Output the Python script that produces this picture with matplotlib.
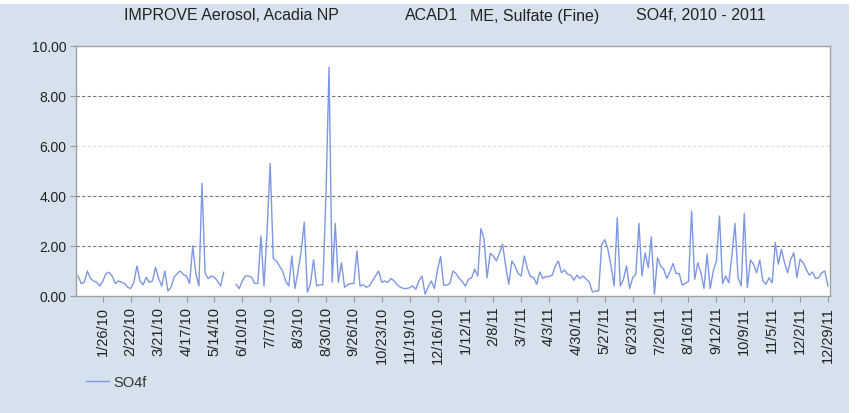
import numpy as np
import pandas as pd
import matplotlib
matplotlib.use("Agg")
import matplotlib.pyplot as plt
from matplotlib.patches import Rectangle

# sampling dates: every 3rd day, IMPROVE schedule
dates = pd.date_range("2010-01-02", periods=243, freq="3D")

nan = np.nan
so4f = [
    0.8, 0.5, 0.55, 1.0, 0.7, 0.6, 0.55, 0.4, 0.6, 0.9,
    0.95, 0.8, 0.5, 0.6, 0.55, 0.5, 0.35, 0.3, 0.55, 1.2,
    0.6, 0.45, 0.75, 0.55, 0.6, 1.15, 0.7, 0.4, 1.0, 0.2,
    0.35, 0.75, 0.9, 1.0, 0.85, 0.8, 0.5, 2.0, 0.9, 0.4,
    4.5, 0.9, 0.7, 0.8, 0.75, 0.6, 0.4, 0.95, nan, nan,
    nan, 0.47, 0.3, 0.6, 0.8, 0.8, 0.75, 0.5, 0.5, 2.4,
    0.4, 2.6, 5.3, 1.5, 1.4, 1.2, 1.0, 0.6, 0.4, 1.6,
    0.3, 1.0, 1.8, 2.95, 0.15, 0.5, 1.45, 0.4, 0.45, 0.45,
    4.0, 9.15, 0.55, 2.9, 0.55, 1.33, 0.35, 0.45, 0.5, 0.5,
    1.8, 0.4, 0.45, 0.35, 0.4, 0.6, 0.8, 1.0, 0.55, 0.6,
    0.55, 0.7, 0.6, 0.45, 0.35, 0.3, 0.3, 0.33, 0.4, 0.27,
    0.6, 0.8, 0.07, 0.37, 0.6, 0.3, 1.05, 1.58, 0.43, 0.44,
    0.5, 1.0, 0.9, 0.71, 0.57, 0.4, 0.67, 0.73, 1.07, 0.8,
    2.7, 2.3, 0.73, 1.71, 1.6, 1.4, 1.71, 2.07, 1.2, 0.47,
    1.4, 1.2, 0.9, 0.8, 1.6, 1.1, 0.77, 0.75, 0.47, 0.96,
    0.7, 0.78, 0.78, 0.83, 1.2, 1.4, 0.93, 1.04, 0.87, 0.83,
    0.63, 0.83, 0.7, 0.8, 0.67, 0.56, 0.16, 0.2, 0.2, 2.07,
    2.25, 1.87, 1.2, 0.4, 3.13, 0.4, 0.67, 1.2, 0.3, 0.73,
    0.87, 2.9, 0.8, 1.73, 1.13, 2.37, 0.07, 1.53, 1.2, 1.07,
    0.7, 0.96, 1.3, 0.9, 0.9, 0.43, 0.51, 0.58, 3.4, 0.67,
    1.33, 0.93, 0.3, 1.67, 0.3, 1.0, 1.4, 3.2, 0.5, 0.8,
    0.53, 1.6, 2.9, 0.73, 0.4, 3.3, 0.33, 1.44, 1.27, 0.93,
    1.44, 0.6, 0.47, 0.73, 0.53, 2.14, 1.27, 1.87, 1.33, 0.93,
    1.47, 1.73, 0.73, 1.47, 1.33, 1.07, 0.83, 0.96, 0.7, 0.73,
    0.93, 1.0, 0.4,
]

tick_labels = ["1/26/10", "2/22/10", "3/21/10", "4/17/10", "5/14/10", "6/10/10",
               "7/7/10", "8/3/10", "8/30/10", "9/26/10", "10/23/10", "11/19/10",
               "12/16/10", "1/12/11", "2/8/11", "3/7/11", "4/3/11", "4/30/11",
               "5/27/11", "6/23/11", "7/20/11", "8/16/11", "9/12/11", "10/9/11",
               "11/5/11", "12/2/11", "12/29/11"]
y_ticks = [0, 2, 4, 6, 8, 10]

plt.rcParams['font.family'] = ['Liberation Sans', 'DejaVu Sans']

bg = "#d5e2ed"
fig = plt.figure(figsize=(8.6, 4.14), dpi=100, facecolor="white")
fig.patches.append(Rectangle((0, 0), 849 / 860, 409 / 414, transform=fig.transFigure,
                             facecolor=bg, edgecolor="none", zorder=-10))

ax = fig.add_axes([76 / 860, 117 / 414, 754 / 860, 250 / 414])
ax.set_facecolor("white")
ax.plot(dates, so4f, color="#7d97e3", lw=1.0, label="SO4f")

ax.set_xlim(pd.Timestamp("2009-12-31"), pd.Timestamp("2011-12-31"))
ax.set_ylim(0, 10)

ticks = [pd.to_datetime(t, format="%m/%d/%y") for t in tick_labels]
ax.set_xticks(ticks)
ax.set_xticklabels(tick_labels, rotation=90, fontsize=10.5, color="#222222")
ax.set_yticks(y_ticks)
ax.set_yticklabels(["%.2f" % v for v in y_ticks], fontsize=10, color="#222222")
ax.tick_params(axis="both", length=4, color="#999999", pad=3)

for v in [2, 4, 8]:
    ax.axhline(v, color="#777777", lw=0.8, ls=(0, (3, 2)), zorder=0)
ax.axhline(6, color="#dddddd", lw=0.8, ls=(0, (3, 2)), zorder=0)

for s in ax.spines.values():
    s.set_color("#a0a0a0")
    s.set_linewidth(1.0)

ty = 1 - 16 / 414
fig.text(231 / 860, ty, "IMPROVE Aerosol, Acadia NP", ha="center", va="center", fontsize=11.5, color="#222222")
fig.text(432 / 860, ty, "ACAD1", ha="center", va="center", fontsize=11.5, color="#222222")
fig.text(535 / 860, ty, "ME, Sulfate (Fine)", ha="center", va="center", fontsize=11.5, color="#222222")
fig.text(701 / 860, ty, "SO4f, 2010 - 2011", ha="center", va="center", fontsize=11.5, color="#222222")

leg = fig.legend(loc="center left", bbox_to_anchor=(80 / 860, 1 - 383 / 414), frameon=False,
                 fontsize=10.5, handlelength=1.6, handletextpad=0.3, borderaxespad=0)
for t in leg.get_texts():
    t.set_color("#333333")

fig.savefig("out.png", dpi=100, facecolor=fig.get_facecolor())
